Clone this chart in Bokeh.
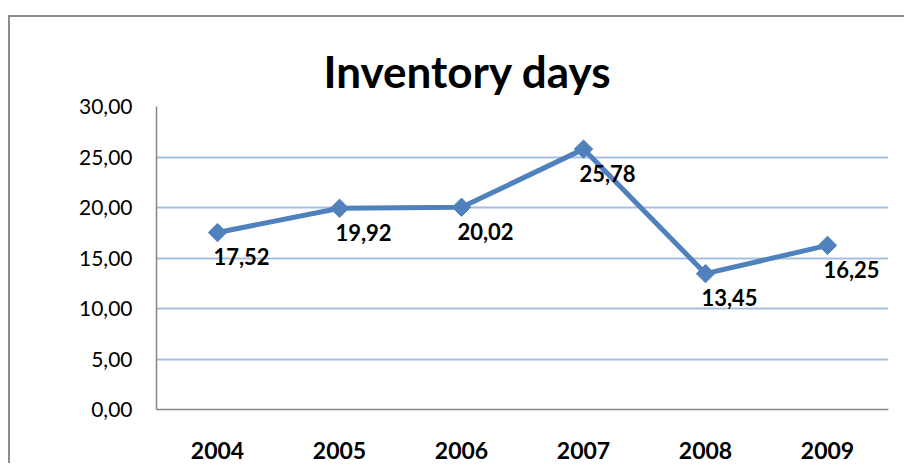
import math
from bokeh.plotting import figure
from bokeh.models import ColumnDataSource, FactorRange, Range1d, FixedTicker, CustomJSTickFormatter, Title
from bokeh.core.properties import value
from bokeh.embed import file_html
from bokeh.resources import INLINE

years = ["2004", "2005", "2006", "2007", "2008", "2009"]
inventory_days = [17.52, 19.92, 20.02, 25.78, 13.45, 16.25]
labels = ["17,52", "19,92", "20,02", "25,78", "13,45", "16,25"]
y_ticks = [0, 5, 10, 15, 20, 25, 30]

src = ColumnDataSource(dict(x=years, y=inventory_days, lab=labels))

FONT = "Lato"

p = figure(width=896, height=448, x_range=FactorRange(*years, range_padding=0),
           y_range=Range1d(0, 30), output_backend="svg", toolbar_location=None,
           min_border_left=146, min_border_right=18, min_border_top=89, min_border_bottom=56)
p.styles = {"border-left": "2px solid #8c8c8c", "border-top": "2px solid #8c8c8c",
            "margin-top": "15px", "margin-left": "8px"}

t = Title(text="Inventory days", align="left", text_font=FONT, text_font_size="44px",
          text_font_style="bold", text_color="#000000", offset=167, standoff=20)
p.add_layout(t, "above")

p.outline_line_color = None
p.background_fill_color = "white"
p.border_fill_color = "white"

p.xgrid.grid_line_color = None
p.ygrid.grid_line_color = "#A7BFDE"
p.ygrid.grid_line_width = 2
p.ygrid.ticker = FixedTicker(ticks=y_ticks)

p.yaxis.ticker = FixedTicker(ticks=y_ticks)
p.yaxis.formatter = CustomJSTickFormatter(code="return tick.toFixed(2).replace('.', ',');")
p.yaxis.axis_line_color = "#868686"
p.yaxis.axis_line_width = 1.5
p.yaxis.major_tick_line_color = None
p.yaxis.minor_tick_line_color = None
p.yaxis.major_label_text_font = FONT
p.yaxis.major_label_text_font_size = "21px"
p.yaxis.major_label_text_color = "#000000"
p.yaxis.major_label_standoff = 18

p.xaxis.axis_line_color = "#868686"
p.xaxis.axis_line_width = 1.5
p.xaxis.major_tick_line_color = None
p.xaxis.minor_tick_line_color = None
p.xaxis.major_label_text_font = FONT
p.xaxis.major_label_text_font_size = "23px"
p.xaxis.major_label_text_font_style = "bold"
p.xaxis.major_label_text_color = "#000000"
p.xaxis.major_label_standoff = 26

p.line("x", "y", source=src, line_color="#4F81BD", line_width=5)
p.scatter("x", "y", source=src, marker="square", size=13, angle=math.pi / 4,
          fill_color="#4F81BD", line_color="#4F81BD")
p.text("x", "y", text="lab", source=src, x_offset=24, y_offset=24,
       text_font=value(FONT), text_font_size="22px", text_font_style="bold",
       text_color="#000000", text_align="center", text_baseline="middle")

open("out.html", "w").write(file_html(p, INLINE))
